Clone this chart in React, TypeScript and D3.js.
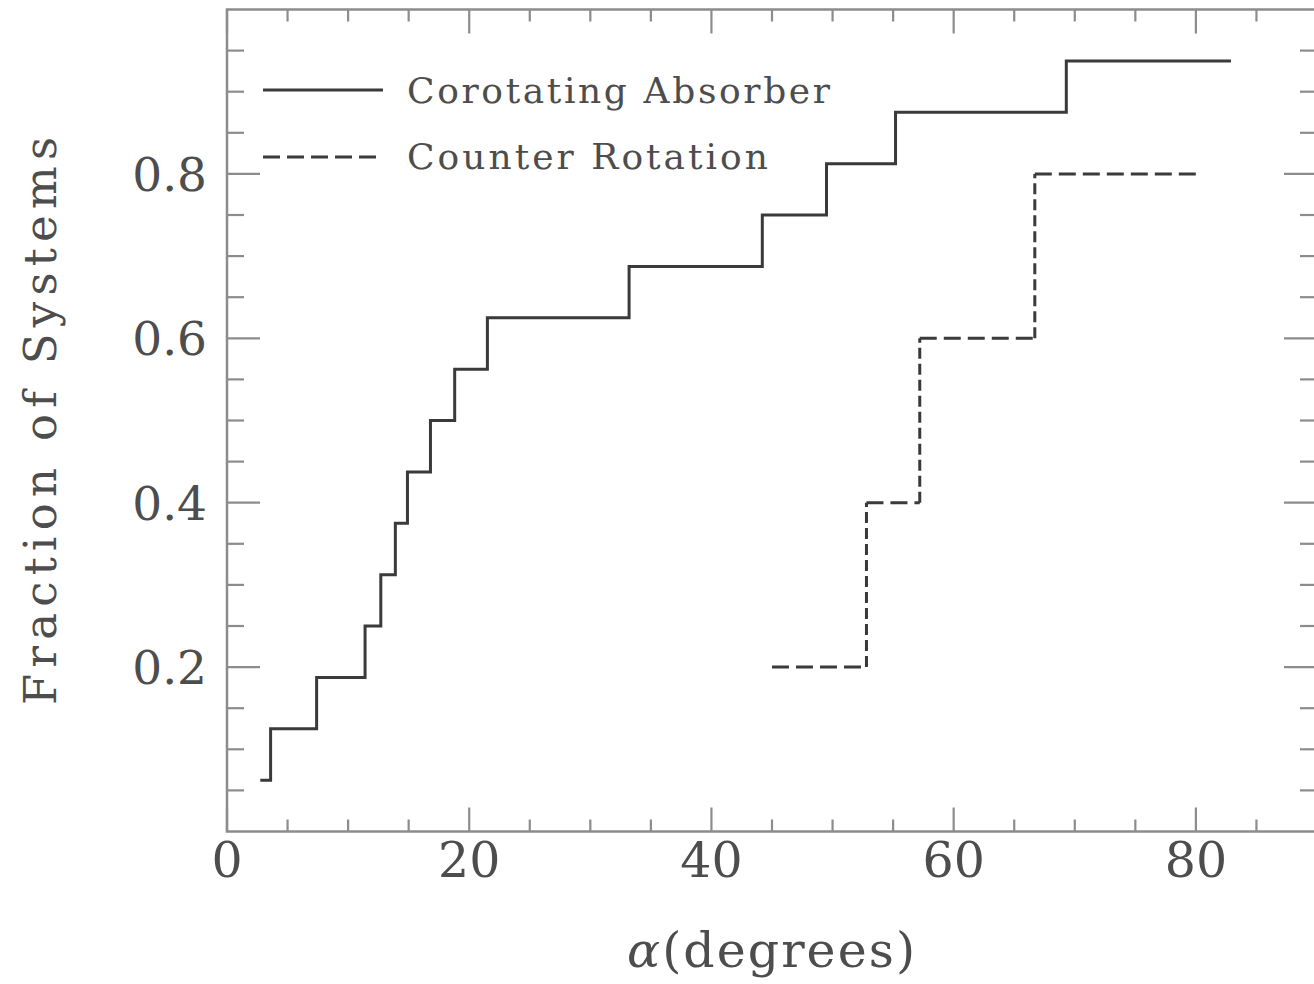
import React from "react";
import * as d3 from "d3";

// Corotating Absorber: step edges (degrees) and cumulative fraction levels
const coroEdges = [2.75, 3.6, 7.4, 11.4, 12.7, 13.9, 14.9, 16.8, 18.8, 21.5, 33.2, 44.2, 49.5, 55.2, 69.3, 82.9];
const coroLevels = [0.0625, 0.125, 0.1875, 0.25, 0.3125, 0.375, 0.4375, 0.5, 0.5625, 0.625, 0.6875, 0.75, 0.8125, 0.875, 0.9375];

// Counter Rotation
const counterEdges = [45.0, 52.8, 57.2, 66.7, 80.5];
const counterLevels = [0.2, 0.4, 0.6, 0.8];

const xMajorTicks = [0, 20, 40, 60, 80];
const yMajorTicks = [0.2, 0.4, 0.6, 0.8];
const yTickLabels = ["0.2", "0.4", "0.6", "0.8"];

const legendItems = ["Corotating Absorber", "Counter Rotation"];

const W = 1314;
const H = 984;
const FONT = "'DejaVu Serif', serif";
const AXIS = "#8c8c8c";
const LINE = "#3a3a3a";
const TEXT = "#4d4d4d";

export default function App() {
  const x = d3.scaleLinear().domain([0, 90]).range([227, 1317]);
  const y = d3.scaleLinear().domain([0, 1]).range([831.5, 9.5]);

  const xMinor = d3.range(5, 90, 5).filter((v) => v % 20 !== 0);
  const yMinor = d3.range(1, 20).map((i) => i * 0.05).filter((v) => Math.abs((v / 0.2) - Math.round(v / 0.2)) > 1e-6);

  const coroPts: [number, number][] = coroLevels.map((l, i) => [coroEdges[i], l] as [number, number]);
  coroPts.push([coroEdges[coroEdges.length - 1], coroLevels[coroLevels.length - 1]]);
  const stepLine = d3
    .line<[number, number]>()
    .x((d) => x(d[0]))
    .y((d) => y(d[1]))
    .curve(d3.curveStepAfter);

  // dashed segments (horizontal and vertical drawn separately)
  const hSegs: [number, number, number][] = counterLevels.map((l, i) => [counterEdges[i], counterEdges[i + 1], l]);
  const vSegs: [number, number, number][] = counterLevels.slice(1).map((l, i) => [counterEdges[i + 1], counterLevels[i], l]);

  const [x0, x1] = x.range();
  const [yb, yt] = y.range();

  return (
    <svg
      width={W}
      height={H}
      style={{ position: "absolute", left: 0, top: 0, background: "#fff" }}
      fontFamily={FONT}
    >
      {/* frame */}
      <rect x={x0} y={yt} width={x1 - x0} height={yb - yt} fill="none" stroke={AXIS} strokeWidth={2.5} />
      {/* x ticks bottom/top */}
      {xMinor.map((v) => (
        <g key={"xm" + v} stroke={AXIS} strokeWidth={2.2}>
          <line x1={x(v)} x2={x(v)} y1={yb} y2={yb - 12} />
          <line x1={x(v)} x2={x(v)} y1={yt} y2={yt + 12} />
        </g>
      ))}
      {xMajorTicks.map((v) => (
        <g key={"xM" + v} stroke={AXIS} strokeWidth={2.2}>
          <line x1={x(v)} x2={x(v)} y1={yb} y2={yb - 24} />
          <line x1={x(v)} x2={x(v)} y1={yt} y2={yt + 24} />
        </g>
      ))}
      {/* y ticks left/right */}
      {yMinor.map((v) => (
        <g key={"ym" + v} stroke={AXIS} strokeWidth={2.2}>
          <line x1={x0} x2={x0 + 17} y1={y(v)} y2={y(v)} />
          <line x1={x1} x2={x1 - 17} y1={y(v)} y2={y(v)} />
        </g>
      ))}
      {yMajorTicks.map((v) => (
        <g key={"yM" + v} stroke={AXIS} strokeWidth={2.2}>
          <line x1={x0} x2={x0 + 33} y1={y(v)} y2={y(v)} />
          <line x1={x1} x2={x1 - 33} y1={y(v)} y2={y(v)} />
        </g>
      ))}
      {/* tick labels */}
      {xMajorTicks.map((v) => (
        <text key={"xl" + v} x={x(v)} y={877} textAnchor="middle" fontSize={49} fill={TEXT}>
          {String(v)}
        </text>
      ))}
      {yMajorTicks.map((v, i) => (
        <text key={"yl" + v} x={207} y={y(v)} dy="0.36em" textAnchor="end" fontSize={47} fill={TEXT}>
          {yTickLabels[i]}
        </text>
      ))}
      {/* axis titles */}
      <text x={771} y={967} textAnchor="middle" fontSize={49} fill={TEXT} textLength={288} lengthAdjust="spacing">
        <tspan fontStyle="italic">α</tspan>(degrees)
      </text>
      <text
        transform="translate(56,421) rotate(-90)"
        textAnchor="middle"
        fontSize={45}
        fill={TEXT}
        textLength={568}
        lengthAdjust="spacing"
      >
        Fraction of Systems
      </text>
      {/* series */}
      <path d={stepLine(coroPts) || ""} fill="none" stroke={LINE} strokeWidth={3} strokeLinejoin="miter" />
      {hSegs.map((s, i) => (
        <line key={"h" + i} x1={x(s[0])} x2={x(s[1])} y1={y(s[2])} y2={y(s[2])} stroke={LINE} strokeWidth={3} strokeDasharray="17 7" />
      ))}
      {vSegs.map((s, i) => (
        <line key={"v" + i} x1={x(s[0])} x2={x(s[0])} y1={y(s[1])} y2={y(s[2])} stroke={LINE} strokeWidth={3} strokeDasharray="11 5" />
      ))}
      {/* legend */}
      <line x1={263} x2={383} y1={90} y2={90} stroke={LINE} strokeWidth={3} />
      <line x1={263} x2={380} y1={157} y2={157} stroke={LINE} strokeWidth={3} strokeDasharray="17 7" />
      <text x={407} y={103} fontSize={36} fill={TEXT} textLength={423} lengthAdjust="spacing">
        {legendItems[0]}
      </text>
      <text x={407} y={169} fontSize={36} fill={TEXT} textLength={361} lengthAdjust="spacing">
        {legendItems[1]}
      </text>
    </svg>
  );
}
